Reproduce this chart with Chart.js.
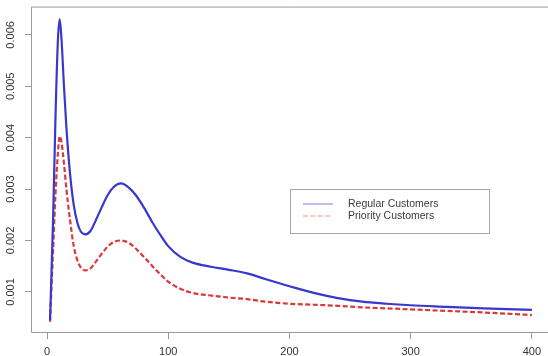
<!DOCTYPE html>
<html>
<head>
<meta charset="utf-8">
<script src="https://cdn.jsdelivr.net/npm/chart.js@4/dist/chart.umd.min.js"></script>
<style>
  html, body { margin: 0; padding: 0; background: #ffffff; overflow: hidden; }
  #wrap { width: 548px; height: 356px; }
</style>
</head>
<body>
<div id="wrap"><canvas id="density_chart"></canvas></div>
<script>
const xValues = [2.5, 5, 7, 9, 10.5, 12, 14, 16, 19, 22, 25, 28, 32, 36, 40, 45, 50, 55, 61, 67,
  73, 80, 87, 94, 100, 110, 120, 135, 150, 165, 180, 200, 220, 240, 260, 280, 300, 330, 360, 400]

const regularCustomers = [0.00045, 0.0024, 0.0044, 0.0059, 0.0063, 0.0059, 0.005, 0.0042, 0.0033, 0.0027,
  0.00235, 0.00217, 0.00212, 0.00219, 0.00238, 0.00264, 0.00288, 0.00304, 0.00311, 0.00304,
  0.00289, 0.00264, 0.00235, 0.00209, 0.00189, 0.00168, 0.00157, 0.00149, 0.00143, 0.00136,
  0.00125, 0.00111, 0.00098, 0.00088, 0.00081, 0.00077, 0.00074, 0.00071, 0.00068, 0.00065]

const priorityCustomers = [0.00042, 0.0018, 0.0029, 0.0037, 0.00403, 0.0039, 0.0035, 0.003, 0.0024, 0.0019,
  0.00162, 0.00147, 0.00142, 0.00146, 0.00158, 0.00174, 0.00188, 0.00197, 0.002, 0.00196,
  0.00185, 0.00168, 0.0015, 0.00133, 0.0012, 0.00106, 0.00098, 0.00093, 0.00089, 0.00086,
  0.00081, 0.00077, 0.00075, 0.00073, 0.0007, 0.00068, 0.00066, 0.00063, 0.0006, 0.00055]

const seriesLabels = ["Regular Customers", "Priority Customers"]
const xTicks = [0, 100, 200, 300, 400]
const yTicks = [0.001, 0.002, 0.003, 0.004, 0.005, 0.006]

const FONT = "'Liberation Sans', Arial, Helvetica, sans-serif"
const BOX_COLOR = "#9a9a9a"

// R style plot frame + boxed legend
const frameAndLegend = {
  id: "frameAndLegend",
  afterDraw(chart) {
    const { ctx, chartArea } = chart
    ctx.save()
    ctx.strokeStyle = BOX_COLOR
    ctx.lineWidth = 1
    ctx.beginPath()
    ctx.moveTo(chartArea.right + 2, chartArea.top + 0.5)
    ctx.lineTo(chartArea.left + 0.5, chartArea.top + 0.5)
    ctx.lineTo(chartArea.left + 0.5, chartArea.bottom + 0.5)
    ctx.lineTo(chartArea.right + 2, chartArea.bottom + 0.5)
    ctx.stroke()

    // legend
    const lx = 290.5, ly = 189.5, lw = 199, lh = 44
    ctx.strokeStyle = "#a8a8a8"
    ctx.strokeRect(lx, ly, lw, lh)
    chart.data.datasets.forEach((ds, i) => {
      const y = 204 + i * 12
      ctx.strokeStyle = ds.borderColor
      ctx.lineWidth = 1.2
      ctx.setLineDash(ds.borderDash || [])
      ctx.globalAlpha = 0.55
      ctx.beginPath()
      ctx.moveTo(303, y)
      ctx.lineTo(333, y)
      ctx.stroke()
      ctx.globalAlpha = 1
      ctx.setLineDash([])
      ctx.fillStyle = "#3a3a3a"
      ctx.font = "10.5px " + FONT
      ctx.textBaseline = "middle"
      ctx.textAlign = "left"
      ctx.fillText(ds.label, 348, y)
    })
    ctx.restore()
  },
}

new Chart(document.getElementById("density_chart"), {
  type: "line",
  plugins: [frameAndLegend],
  data: {
    datasets: [
      {
        label: seriesLabels[0],
        data: xValues.map((x, i) => ({ x: x, y: regularCustomers[i] })),
        borderColor: "#3838cc",
        borderWidth: 2.2,
        pointRadius: 0,
        cubicInterpolationMode: "monotone",
        fill: false,
      },
      {
        label: seriesLabels[1],
        data: xValues.map((x, i) => ({ x: x, y: priorityCustomers[i] })),
        borderColor: "#dd3838",
        borderWidth: 2.2,
        borderDash: [5, 2.5],
        pointRadius: 0,
        cubicInterpolationMode: "monotone",
        fill: false,
      },
    ],
  },
  options: {
    responsive: true,
    maintainAspectRatio: false,
    devicePixelRatio: 1,
    animation: false,
    layout: { padding: { top: 6, left: 0, right: 0, bottom: 0 } },
    plugins: {
      legend: { display: false },
      tooltip: { enabled: false },
    },
    scales: {
      x: {
        type: "linear",
        min: -13.2,
        max: 413.3,
        afterBuildTicks: (scale) => {
          scale.ticks = xTicks.map((v) => ({ value: v }))
        },
        afterFit: (scale) => {
          scale.height = 24
        },
        border: { display: false },
        grid: {
          drawOnChartArea: false,
          drawTicks: true,
          tickLength: 7,
          tickColor: BOX_COLOR,
        },
        ticks: {
          color: "#333333",
          font: { family: FONT, size: 11 },
          padding: 6,
          maxRotation: 0,
          autoSkip: false,
        },
      },
      y: {
        type: "linear",
        min: 0.00022,
        max: 0.00655,
        afterBuildTicks: (scale) => {
          scale.ticks = yTicks.map((v) => ({ value: v }))
        },
        afterFit: (scale) => {
          scale.width = 31
        },
        border: { display: false },
        grid: {
          drawOnChartArea: false,
          drawTicks: true,
          tickLength: 6,
          tickColor: BOX_COLOR,
        },
        ticks: {
          color: "#333333",
          font: { family: FONT, size: 11 },
          padding: 0,
          minRotation: 90,
          maxRotation: 90,
          crossAlign: "center",
          autoSkip: false,
          callback: (v) => v.toFixed(3),
        },
      },
    },
  },
})
</script>
</body>
</html>
